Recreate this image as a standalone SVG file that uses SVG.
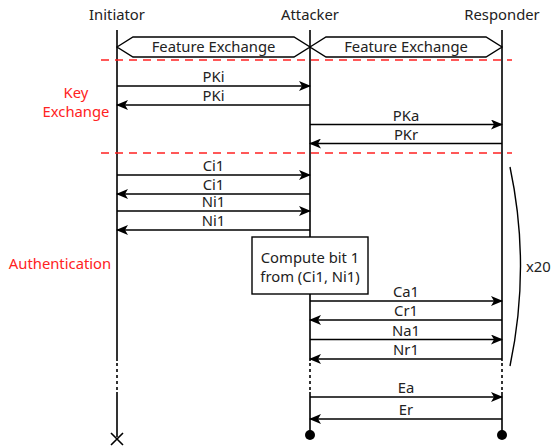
<svg xmlns="http://www.w3.org/2000/svg" width="553" height="446" viewBox="0 0 553 446">
<style>
text{font-family:"Noto Sans","Open Sans","DejaVu Sans",sans-serif;font-size:14.8px;fill:#222;}
.c{text-anchor:middle}
.red{fill:#f22}
.life{stroke:#000;stroke-width:1.6;fill:none}
.dot{stroke:#000;stroke-width:1.6;stroke-dasharray:3 3;fill:none}
.msg{stroke:#000;stroke-width:1.4;fill:none;marker-end:url(#ah)}
.sep{stroke:#f22;stroke-width:1.5;stroke-dasharray:8 6;fill:none}
.box{fill:#fff;stroke:#000;stroke-width:1.4}
</style>
<defs>
<marker id="ah" viewBox="0 0 12 10" refX="11" refY="5" markerWidth="12" markerHeight="10" markerUnits="userSpaceOnUse" orient="auto">
<path d="M0,0 L12,5 L0,10 L3,5 Z" fill="#000"/>
</marker>
</defs>
<g id="initiator">
<text class="c" x="117" y="20">Initiator</text>
<path class="life" d="M117,30 V361 M117,392 V437"/>
<path class="dot" d="M117,363 V391"/>
<path class="life" d="M111,433 L123,445 M123,433 L111,445"/>
</g>
<g id="attacker">
<text class="c" x="310" y="20">Attacker</text>
<path class="life" d="M310,30 V361 M310,392 V435"/>
<path class="dot" d="M310,363 V391"/>
<circle cx="310" cy="435" r="5" fill="#000"/>
</g>
<g id="responder">
<text class="c" x="502" y="20">Responder</text>
<path class="life" d="M502,30 V361 M502,392 V435"/>
<path class="dot" d="M502,363 V391"/>
<circle cx="502" cy="435" r="5" fill="#000"/>
</g>
<g id="phases">
<line class="sep" x1="101" y1="60" x2="512" y2="60"/>
<line class="sep" x1="101" y1="153" x2="512" y2="153"/>
<text class="c red" x="76" y="98">Key</text>
<text class="c red" x="76" y="117">Exchange</text>
<text class="c red" x="60" y="268.5">Authentication</text>
</g>
<g id="feature1">
<path class="box" d="M117,47 L133,37 H294 L310,47 L294,57 H133 Z"/>
<text class="c" x="213.5" y="52">Feature Exchange</text>
</g>
<g id="feature2">
<path class="box" d="M310,47 L326,37 H486 L502,47 L486,57 H326 Z"/>
<text class="c" x="406" y="52">Feature Exchange</text>
</g>
<g id="compute">
<rect class="box" x="252" y="237" width="116" height="57"/>
<text class="c" x="310" y="262.5">Compute bit 1</text>
<text class="c" x="310" y="281.5">from (Ci1, Ni1)</text>
</g>
<g id="repeat">
<path d="M510,167 Q531,266 510,366" fill="none" stroke="#000" stroke-width="1.4"/>
<text x="526" y="271.5">x20</text>
</g>
<g id="connectors">
<line class="msg" x1="117" y1="86" x2="310" y2="86"/>
<line class="msg" x1="310" y1="105" x2="117" y2="105"/>
<line class="msg" x1="310" y1="124.5" x2="502" y2="124.5"/>
<line class="msg" x1="502" y1="143.5" x2="310" y2="143.5"/>
<line class="msg" x1="117" y1="175" x2="310" y2="175"/>
<line class="msg" x1="310" y1="194" x2="117" y2="194"/>
<line class="msg" x1="117" y1="211" x2="310" y2="211"/>
<line class="msg" x1="310" y1="230" x2="117" y2="230"/>
<line class="msg" x1="310" y1="301" x2="502" y2="301"/>
<line class="msg" x1="502" y1="320" x2="310" y2="320"/>
<line class="msg" x1="310" y1="339.5" x2="502" y2="339.5"/>
<line class="msg" x1="502" y1="359" x2="310" y2="359"/>
<line class="msg" x1="310" y1="397" x2="502" y2="397"/>
<line class="msg" x1="502" y1="419" x2="310" y2="419"/>
<text class="c" x="213.5" y="82">PKi</text>
<text class="c" x="213.5" y="101">PKi</text>
<text class="c" x="406" y="120.5">PKa</text>
<text class="c" x="406" y="139.5">PKr</text>
<text class="c" x="213.5" y="171">Ci1</text>
<text class="c" x="213.5" y="190">Ci1</text>
<text class="c" x="213.5" y="207">Ni1</text>
<text class="c" x="213.5" y="226">Ni1</text>
<text class="c" x="406" y="297">Ca1</text>
<text class="c" x="406" y="316">Cr1</text>
<text class="c" x="406" y="335.5">Na1</text>
<text class="c" x="406" y="355">Nr1</text>
<text class="c" x="406" y="393">Ea</text>
<text class="c" x="406" y="415">Er</text>
</g>
</svg>
